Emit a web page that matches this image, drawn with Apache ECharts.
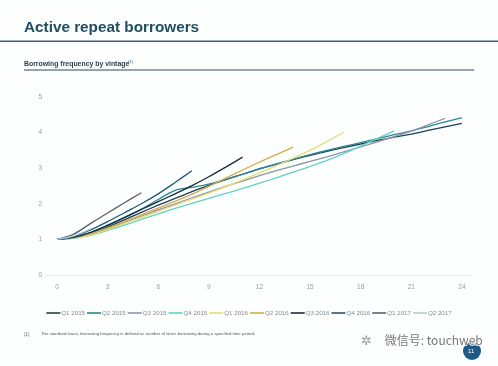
<!DOCTYPE html>
<html>
<head>
<meta charset="utf-8">
<script src="https://cdn.jsdelivr.net/npm/echarts@6/dist/echarts.min.js"></script>
<style>
html,body{margin:0;padding:0;background:#fdfefe;}
#c{width:498px;height:366px;}
</style>
</head>
<body>
<div id="c"></div>
<script>
// ---- data ----
const seriesNames = ['Q1 2015','Q2 2015','Q3 2015','Q4 2015','Q1 2016','Q2 2016','Q3 2016','Q4 2016','Q1 2017','Q2 2017'];
const q1_2015 = [1.00,1.05,1.17,1.35,1.55,1.76,1.96,2.15,2.34,2.52,2.68,2.83,2.98,3.11,3.24,3.36,3.47,3.58,3.68,3.78,3.87,3.96,4.06,4.16,4.26];
const q2_2015 = [1.00,1.06,1.19,1.38,1.60,1.85,2.12,2.38,2.46,2.55,2.68,2.83,2.98,3.12,3.25,3.38,3.50,3.61,3.72,3.83,3.94,4.05,4.17,4.30,4.42];
const q3_2015 = [1.00,1.05,1.15,1.30,1.47,1.65,1.83,2.00,2.17,2.33,2.49,2.64,2.79,2.93,3.06,3.19,3.32,3.46,3.60,3.74,3.89,4.04,4.22,4.40];
const q4_2015 = [1.00,1.03,1.11,1.25,1.40,1.56,1.72,1.87,2.01,2.15,2.29,2.43,2.58,2.73,2.89,3.05,3.22,3.41,3.62,3.84,4.05];
const q1_2016 = [1.00,1.04,1.13,1.28,1.45,1.62,1.79,1.96,2.13,2.30,2.48,2.67,2.87,3.07,3.28,3.50,3.75,4.01];
const q2_2016 = [1.00,1.05,1.16,1.32,1.50,1.69,1.88,2.07,2.27,2.49,2.72,2.95,3.17,3.38,3.59];
const q3_2016 = [1.00,1.06,1.20,1.40,1.62,1.84,2.06,2.28,2.51,2.76,3.03,3.31];
const q4_2016 = [1.00,1.08,1.27,1.50,1.75,2.00,2.28,2.60,2.93];
const q1_2017 = [1.00,1.15,1.45,1.74,2.03,2.31];
const q2_2017 = [1.00,1.10,1.30];
const allValues = [q1_2015,q2_2015,q3_2015,q4_2015,q1_2016,q2_2016,q3_2016,q4_2016,q1_2017,q2_2017];
const xTicks = [0,3,6,9,12,15,18,21,24];
const yTicks = [0,1,2,3,4,5];
const colors = ['#1d3f55','#2a8698','#8c96aa','#62d2c6','#e6dc70','#d8a84c','#172d3a','#21587a','#59626c','#a9cfe0'];

const chart = echarts.init(document.getElementById('c'), null, {renderer:'canvas'});
const series = allValues.map((vals,i)=>({
  name: seriesNames[i],
  type: 'line',
  data: vals.map((v,m)=>[m,v]),
  showSymbol: false,
  smooth: 0.3,
  lineStyle: {width: 1.3, color: colors[i]},
  itemStyle: {color: colors[i]},
  emphasis: {disabled: true}
}));

chart.setOption({
  animation: false,
  backgroundColor: '#fdfefe',
  color: colors,
  grid: {left: 46, right: 26, top: 97, bottom: 91},
  xAxis: {
    type: 'value', min: -0.65, max: 24.6,
    axisLine: {show: true, lineStyle: {color: '#ececf0', width: 1}},
    axisTick: {show: false},
    splitLine: {show: false},
    axisLabel: {customValues: xTicks, color: '#9a9a9a', fontSize: 6.5, fontFamily: 'Liberation Sans', margin: 9}
  },
  yAxis: {
    type: 'value', min: 0, max: 5, interval: 1,
    axisLine: {show: false}, axisTick: {show: false}, splitLine: {show: false},
    axisLabel: {customValues: yTicks, color: '#9a9a9a', fontSize: 6.5, fontFamily: 'Liberation Sans', margin: 4}
  },
  legend: {
    data: seriesNames, bottom: 45, left: 'center',
    icon: 'rect', itemWidth: 14, itemHeight: 1.6, itemGap: 2,
    textStyle: {color: '#8a8a8a', fontSize: 6.2, fontFamily: 'Liberation Sans', padding: [0,0,0,-4]}
  },
  graphic: [
    {type:'text', left: 24, top: 20, style:{text:'Active repeat borrowers', fill:'#1f4d62', font:'bold 15.3px "Liberation Sans", Arial, sans-serif'}},
    {type:'rect', shape:{x:0,y:40.5,width:498,height:1.5}, style:{fill:'#3d6476'}},
    {type:'text', left: 24, top: 61, style:{text:'Borrowing frequency by vintage', fill:'#2a3f4c', font:'bold 6.9px "Liberation Sans", Arial, sans-serif'}},
    {type:'text', left: 128, top: 60, style:{text:'(1)', fill:'#2a3f4c', font:'4px "Liberation Sans", Arial, sans-serif'}},
    {type:'rect', shape:{x:24,y:69.5,width:450,height:1}, style:{fill:'#2e4c5c'}},
    {type:'text', left: 24, top: 332, style:{text:'(1)', fill:'#666', font:'4.5px "Liberation Sans", Arial, sans-serif'}},
    {type:'text', left: 42, top: 332, style:{text:'For standard loans, borrowing frequency is defined as number of times borrowing during a specified time period.', fill:'#555', font:'4.3px "Liberation Sans", Arial, sans-serif'}},
    {type:'circle', shape:{cx:472, cy:351, r:9}, style:{fill:'#1f5a86'}},
    {type:'text', left: 468, top: 348, style:{text:'11', fill:'#ffffff', font:'6px "Liberation Sans", Arial, sans-serif'}},
    {type:'text', left: 361, top: 335, style:{text:'✲', fill:'#9a9a9a', font:'13px "DejaVu Sans"'}},
    {type:'text', left: 384, top: 334, style:{text:'微信号: touchweb', fill:'#777', stroke:'#ffffff', lineWidth:1.5, font:'12px "Noto Sans CJK SC", sans-serif'}}
  ],
  series: series
});
</script>
</body>
</html>
